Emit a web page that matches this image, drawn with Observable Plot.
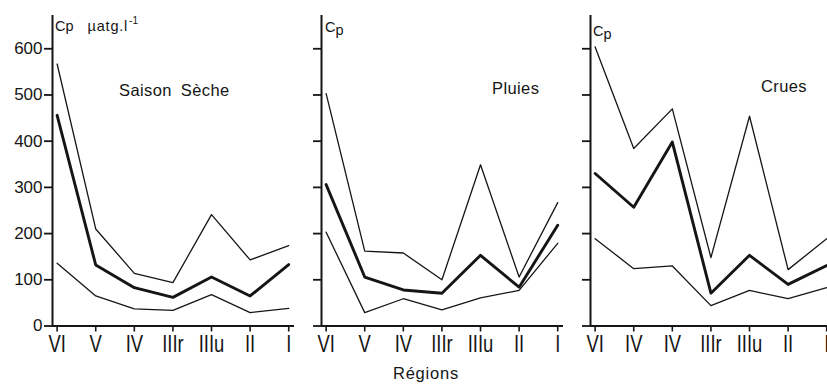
<!DOCTYPE html>
<html>
<head>
<meta charset="utf-8">
<script src="https://cdn.jsdelivr.net/npm/d3@7"></script>
<script src="https://cdn.jsdelivr.net/npm/@observablehq/plot@0.6"></script>
<style>
  html, body { margin: 0; padding: 0; background: #fff; overflow: hidden; }
  #wrap { position: relative; width: 827px; height: 385px; overflow: hidden; background: #fff; }
  #wrap > svg, #wrap > figure { position: absolute; top: 0; margin: 0; }
</style>
</head>
<body>
<div id="wrap"></div>
<script>
// Tick labels (regions)
const regionsA = ["VI", "V", "IV", "IIIr", "IIIu", "II", "I"];
const regionsC = ["VI", "IV", "IV", "IIIr", "IIIu", "II", "I"];
const yTicks = [0, 100, 200, 300, 400, 500, 600];

// Saison Sèche
const secheMax  = [567, 210, 114, 94, 241, 143, 174];
const secheMean = [456, 132, 83, 62, 106, 65, 133];
const secheMin  = [136, 65, 37, 34, 68, 29, 38];

// Pluies
const pluiesMax  = [503, 162, 158, 100, 349, 106, 267];
const pluiesMean = [306, 106, 78, 71, 153, 84, 218];
const pluiesMin  = [203, 29, 59, 35, 61, 77, 179];

// Crues
const cruesMax  = [604, 384, 470, 148, 454, 122, 189];
const cruesMean = [330, 257, 398, 71, 153, 90, 131];
const cruesMin  = [189, 124, 130, 44, 77, 59, 83];

const panels = [
  {title: "Saison Sèche", labels: regionsA, max: secheMax, mean: secheMean, min: secheMin, left: 0, yLabels: true},
  {title: "Pluies", labels: regionsA, max: pluiesMax, mean: pluiesMean, min: pluiesMin, left: 269, yLabels: false},
  {title: "Crues", labels: regionsC, max: cruesMax, mean: cruesMean, min: cruesMin, left: 538, yLabels: false}
];

const ink = "#151515";
const wrap = document.getElementById("wrap");

panels.forEach(p => {
  const rows = s => p[s].map((v, i) => ({i, v}));
  const tickRows = p.labels.map((s, i) => ({i, s}));
  const chart = Plot.plot({
    width: 310,
    height: 385,
    marginLeft: 52,
    marginRight: 16,
    marginTop: 15,
    marginBottom: 59.5,
    style: {background: "transparent", color: ink, fontFamily: "'Liberation Sans', Arial, sans-serif"},
    x: {type: "linear", domain: [-0.12, 6.15], axis: null},
    y: {domain: [0, 672], axis: null},
    marks: [
      Plot.axisY({
        ticks: yTicks,
        tickSize: 8,
        tickPadding: 2,
        strokeWidth: 1.8,
        fontSize: 17,
        tickFormat: p.yLabels ? (d => String(d)) : (() => ""),
        label: null
      }),
      Plot.axisX({
        ticks: d3.range(p.labels.length),
        tickSize: 6,
        strokeWidth: 1.6,
        tickFormat: () => "",
        label: null
      }),
      Plot.text(tickRows, {
        x: "i",
        text: "s",
        frameAnchor: "bottom",
        lineAnchor: "top",
        dy: 10,
        fontSize: 23,
        fontFamily: "'Liberation Sans', Arial, sans-serif",
        fill: ink
      }),
      Plot.ruleX([-0.12], {stroke: ink, strokeWidth: 2}),
      Plot.ruleY([0], {stroke: ink, strokeWidth: 2}),
      Plot.line(rows("max"), {x: "i", y: "v", stroke: ink, strokeWidth: 1.3}),
      Plot.line(rows("min"), {x: "i", y: "v", stroke: ink, strokeWidth: 1.3}),
      Plot.line(rows("mean"), {x: "i", y: "v", stroke: ink, strokeWidth: 2.9})
    ]
  });
  // condense the region labels horizontally (tall narrow lettering in the original)
  const labelSet = new Set(p.labels);
  d3.select(chart).selectAll("text").each(function() {
    if (labelSet.has(this.textContent)) {
      const tr = this.getAttribute("transform") || "";
      this.setAttribute("transform", tr + " scale(0.8,1)");
    }
  });
  chart.style.left = p.left + "px";
  wrap.appendChild(chart);
});

// Annotation overlay (titles, axis unit, x label)
const ov = d3.select(wrap).append("svg")
  .attr("width", 827).attr("height", 385)
  .style("left", "0px").style("pointer-events", "none")
  .attr("font-family", "'Liberation Sans', Arial, sans-serif")
  .attr("fill", ink);

// Unit label in first panel
const u = ov.append("text").attr("x", 55).attr("y", 31).attr("font-size", 14.5);
u.append("tspan").text("Cp");
u.append("tspan").attr("dx", 14).attr("letter-spacing", "0.8px").text("µatg.l");
u.append("tspan").attr("dx", 1).attr("dy", -7).attr("font-size", 10).text("-1");

// "Cp" in the other panels
[[325, 31.5], [593, 36]].forEach(([x, y]) => {
  const t = ov.append("text").attr("x", x).attr("y", y).attr("font-size", 14.5);
  t.append("tspan").text("C");
  t.append("tspan").attr("dy", 3).text("p");
});

// Panel titles
[["Saison Sèche", 119, 96], ["Pluies", 492, 94], ["Crues", 761, 92]].forEach(([s, x, y]) => {
  ov.append("text").attr("x", x).attr("y", y).attr("font-size", 16.5)
    .attr("letter-spacing", "0.4px").attr("word-spacing", "4px").text(s);
});

// X axis title
ov.append("text").attr("x", 426).attr("y", 379).attr("font-size", 16.5)
  .attr("text-anchor", "middle").attr("letter-spacing", "0.8px").text("Régions");
</script>
</body>
</html>
